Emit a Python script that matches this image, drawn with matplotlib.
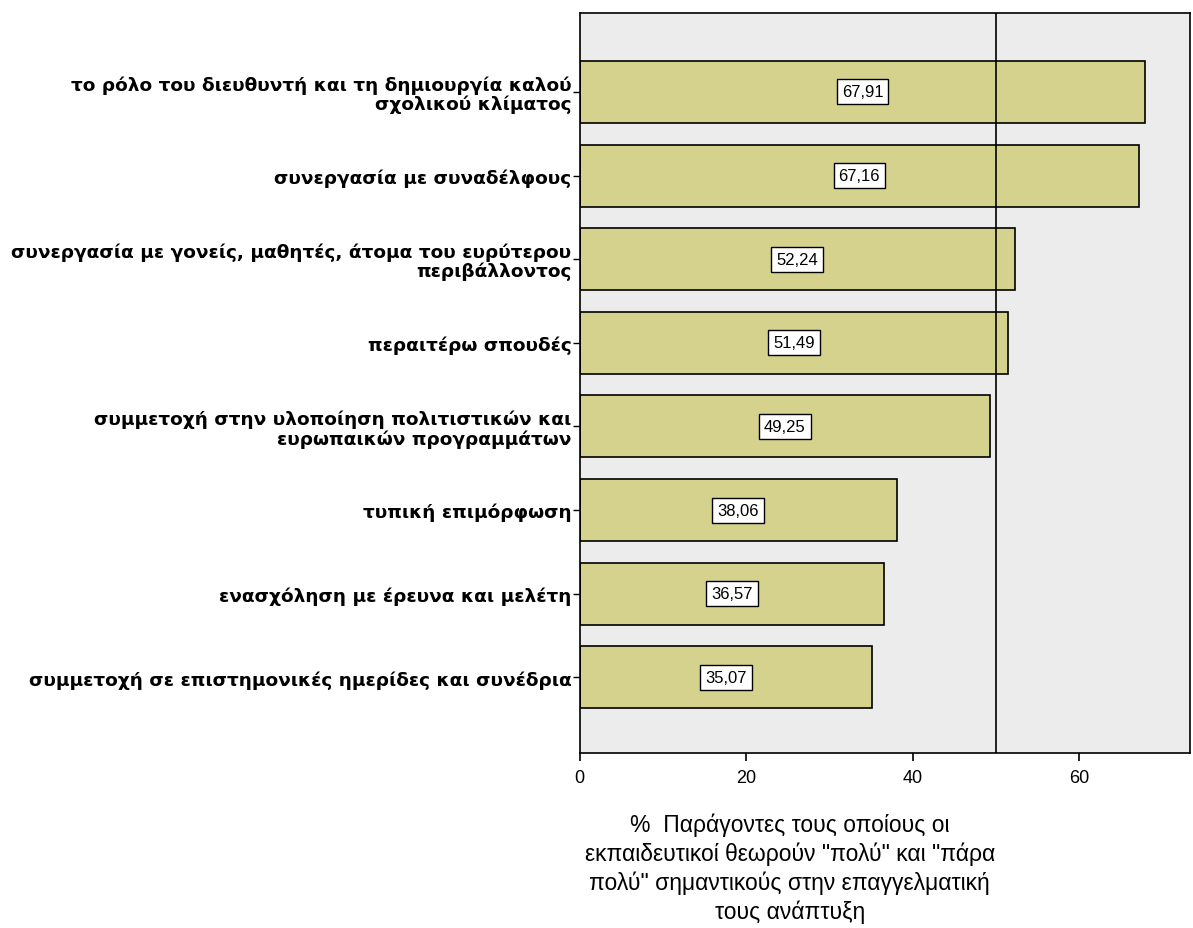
import matplotlib.pyplot as plt
import numpy as np

labels = ['το ρόλο του διευθυντή και τη δημιουργία καλού\nσχολικού κλίματος',
          'συνεργασία με συναδέλφους',
          'συνεργασία με γονείς, μαθητές, άτομα του ευρύτερου\nπεριβάλλοντος',
          'περαιτέρω σπουδές',
          'συμμετοχή στην υλοποίηση πολιτιστικών και\nευρωπαικών προγραμμάτων',
          'τυπική επιμόρφωση',
          'ενασχόληση με έρευνα και μελέτη',
          'συμμετοχή σε επιστημονικές ημερίδες και συνέδρια']
values = [67.91, 67.16, 52.24, 51.49, 49.25, 38.06, 36.57, 35.07]
ref_value = 50
xticks = [0, 20, 40, 60]
xlabel = '%  Παράγοντες τους οποίους οι\nεκπαιδευτικοί θεωρούν "πολύ" και "πάρα\nπολύ" σημαντικούς στην επαγγελματική\nτους ανάπτυξη'

plt.rcParams['font.family'] = ['Liberation Sans', 'DejaVu Sans']

fig = plt.figure(figsize=(11.93, 9.29), dpi=100)
ax = fig.add_axes([0.486, 0.188, 0.5115, 0.797])
ax.set_facecolor('#ececec')

y = np.arange(len(values))
ax.barh(y, values, height=0.74, color='#d5d28e', edgecolor='black', linewidth=1.2, zorder=2)
ax.axvline(ref_value, color='black', linewidth=1.2, zorder=3)

# value boxes in the middle of each bar
for yi, v in zip(y, values):
    ax.text(v / 2, yi, f'{v:.2f}'.replace('.', ','), ha='center', va='center',
            fontsize=12, zorder=4,
            bbox=dict(boxstyle='square,pad=0.3', facecolor='white', edgecolor='black', linewidth=1))

ax.set_xlim(0, 73.3)
ax.set_ylim(7.91, -0.945)
ax.set_yticks(y)
ax.set_yticklabels(labels, fontsize=13.3, fontweight='bold', ha='right', linespacing=1.05,
                   family=['DejaVu Sans'])
ax.set_xticks(xticks)
ax.tick_params(axis='x', labelsize=13, length=6, width=1.2, pad=5)
ax.tick_params(axis='y', length=5, width=1, pad=1)
ax.set_xlabel(xlabel, fontsize=16.5, linespacing=1.3)
ax.xaxis.set_label_coords(0.344, -0.08, transform=ax.transAxes)
ax.xaxis.label.set_va('top')
for s in ax.spines.values():
    s.set_linewidth(1.2)

fig.savefig('out.png', dpi=100, facecolor='white')
